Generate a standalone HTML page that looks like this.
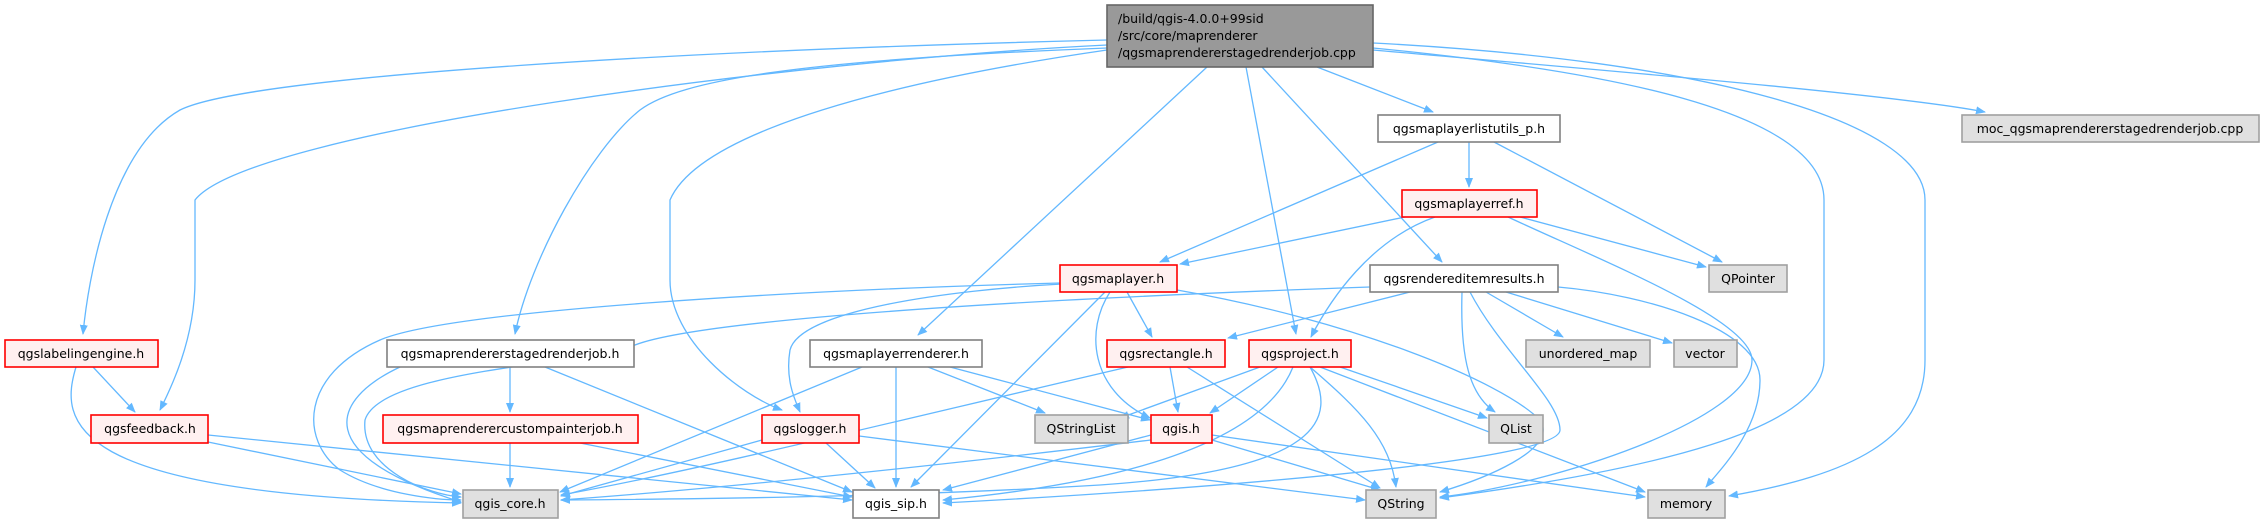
<!DOCTYPE html>
<html><head><meta charset="utf-8"><style>
html,body{margin:0;padding:0;background:#fff;width:2264px;height:526px;overflow:hidden}
svg{display:block}
text{font-family:"DejaVu Sans","Liberation Sans",sans-serif;font-size:12.5px;fill:#000}
.e{fill:none;stroke:#63b8ff;stroke-width:1.3;marker-end:url(#a)}
.w{fill:#fff;stroke:#808080;stroke-width:1.6}
.r{fill:#fff0f0;stroke:#ff0000;stroke-width:1.6}
.g{fill:#e0e0e0;stroke:#a0a0a0;stroke-width:1.6}
</style></head><body>
<svg width="2264" height="526" viewBox="0 0 2264 526" xmlns="http://www.w3.org/2000/svg">
<defs><marker id="a" viewBox="0 0 10 10" refX="9" refY="5" markerWidth="10" markerHeight="10" markerUnits="userSpaceOnUse" orient="auto"><path d="M0,1 L10,5 L0,9 z" fill="#63b8ff"/></marker></defs>
<g>
<path class="e" d="M1107,40 C700,50 250,75 180,110 C110,150 88,280 83,334"/>
<path class="e" d="M1107,45 C800,60 250,130 195,200 L195,280 C195,340 170,390 160,410"/>
<path class="e" d="M1107,48 C800,60 680,80 640,110 C590,150 530,260 515,334"/>
<path class="e" d="M1107,50 C900,80 700,130 670,200 L670,280 C670,340 740,395 782,410"/>
<path class="e" d="M1207,67 L918,335"/>
<path class="e" d="M1246,67 L1296,334"/>
<path class="e" d="M1262,67 L1442,262"/>
<path class="e" d="M1317,67 L1433,112"/>
<path class="e" d="M1373,50 C1600,70 1900,95 1985,112"/>
<path class="e" d="M1373,48 C1600,70 1824,110 1824,200 L1824,360 C1824,430 1650,470 1440,498"/>
<path class="e" d="M1373,43 C1700,60 1925,120 1925,200 L1925,360 C1925,440 1850,475 1729,496"/>
<path class="e" d="M1438,142 L1160,262"/>
<path class="e" d="M1469,142 L1469,187"/>
<path class="e" d="M1494,142 L1722,262"/>
<path class="e" d="M1405,217 L1180,264"/>
<path class="e" d="M1435,217 C1370,240 1330,300 1311,337"/>
<path class="e" d="M1520,217 L1706,267"/>
<path class="e" d="M1508,217 C1600,260 1752,320 1752,360 C1752,420 1550,485 1440,497"/>
<path class="e" d="M1060,283 C800,290 450,310 380,340 C300,375 300,440 340,470 C380,495 440,500 461,500"/>
<path class="e" d="M1370,287 C1000,300 700,320 635,345 C580,365 380,370 365,420 C360,470 430,495 461,497"/>
<path class="e" d="M400,367 C330,400 310,455 461,502"/>
<path class="e" d="M1062,284 C950,290 800,310 790,350 C785,380 795,400 800,412"/>
<path class="e" d="M1127,292 L1152,337"/>
<path class="e" d="M1110,292 C1085,330 1090,390 1150,418"/>
<path class="e" d="M1105,292 L911,487"/>
<path class="e" d="M1177,290 C1350,320 1500,380 1540,420 C1560,450 1480,480 1440,492"/>
<path class="e" d="M1410,292 L1228,338"/>
<path class="e" d="M1462,292 C1460,360 1470,395 1495,412"/>
<path class="e" d="M1486,292 L1563,337"/>
<path class="e" d="M1506,292 L1672,343"/>
<path class="e" d="M1558,287 C1650,295 1760,330 1760,380 C1760,430 1720,470 1706,487"/>
<path class="e" d="M1470,292 C1500,350 1560,400 1560,430 C1560,470 1000,500 943,503"/>
<path class="e" d="M510,367 L510,412"/>
<path class="e" d="M545,367 L852,492"/>
<path class="e" d="M510,443 L510,487"/>
<path class="e" d="M580,443 L852,497"/>
<path class="e" d="M93,367 L135,412"/>
<path class="e" d="M76,367 C60,420 60,495 461,503"/>
<path class="e" d="M208,442 L461,494"/>
<path class="e" d="M208,435 L852,500"/>
<path class="e" d="M862,367 L560,492"/>
<path class="e" d="M896,367 L896,487"/>
<path class="e" d="M928,367 L1045,413"/>
<path class="e" d="M950,367 L1150,420"/>
<path class="e" d="M762,440 L561,496"/>
<path class="e" d="M826,443 L875,488"/>
<path class="e" d="M859,436 L1365,500"/>
<path class="e" d="M1128,367 C900,420 700,470 561,495"/>
<path class="e" d="M1170,367 L1178,412"/>
<path class="e" d="M1187,367 L1380,488"/>
<path class="e" d="M1260,367 L1120,418"/>
<path class="e" d="M1278,367 L1210,413"/>
<path class="e" d="M1293,367 C1260,450 1100,485 943,500"/>
<path class="e" d="M1310,367 C1340,420 1320,470 1100,485 C900,497 700,499 561,500"/>
<path class="e" d="M1310,367 C1360,410 1390,440 1396,487"/>
<path class="e" d="M1340,367 L1487,418"/>
<path class="e" d="M1320,367 L1645,492"/>
<path class="e" d="M1151,440 C900,470 700,490 561,500"/>
<path class="e" d="M1151,435 L943,490"/>
<path class="e" d="M1212,440 L1380,490"/>
<path class="e" d="M1212,435 L1645,497"/>
</g>
<g>
<rect x="1107" y="5" width="266" height="62" fill="#999" stroke="#666" stroke-width="1.6"/>
<text x="1118" y="23">/build/qgis-4.0.0+99sid</text>
<text x="1118" y="40">/src/core/maprenderer</text>
<text x="1118" y="57">/qgsmaprendererstagedrenderjob.cpp</text>

<rect class="w" x="1378" y="115" width="182" height="27"/><text x="1469" y="133" text-anchor="middle">qgsmaplayerlistutils_p.h</text>
<rect class="g" x="1962" y="115" width="297" height="27"/><text x="2110" y="133" text-anchor="middle">moc_qgsmaprendererstagedrenderjob.cpp</text>
<rect class="r" x="1402" y="190" width="135" height="27"/><text x="1469" y="208" text-anchor="middle">qgsmaplayerref.h</text>
<rect class="r" x="1060" y="265" width="117" height="27"/><text x="1118" y="283" text-anchor="middle">qgsmaplayer.h</text>
<rect class="w" x="1370" y="265" width="188" height="27"/><text x="1464" y="283" text-anchor="middle">qgsrendereditemresults.h</text>
<rect class="g" x="1709" y="265" width="78" height="27"/><text x="1748" y="283" text-anchor="middle">QPointer</text>
<rect class="r" x="5" y="340" width="153" height="27"/><text x="81" y="358" text-anchor="middle">qgslabelingengine.h</text>
<rect class="w" x="387" y="340" width="247" height="27"/><text x="510" y="358" text-anchor="middle">qgsmaprendererstagedrenderjob.h</text>
<rect class="w" x="810" y="340" width="172" height="27"/><text x="896" y="358" text-anchor="middle">qgsmaplayerrenderer.h</text>
<rect class="r" x="1107" y="340" width="118" height="27"/><text x="1166" y="358" text-anchor="middle">qgsrectangle.h</text>
<rect class="r" x="1249" y="340" width="102" height="27"/><text x="1300" y="358" text-anchor="middle">qgsproject.h</text>
<rect class="g" x="1526" y="340" width="124" height="27"/><text x="1588" y="358" text-anchor="middle">unordered_map</text>
<rect class="g" x="1674" y="340" width="63" height="27"/><text x="1705" y="358" text-anchor="middle">vector</text>
<rect class="r" x="91" y="415" width="117" height="28"/><text x="150" y="433" text-anchor="middle">qgsfeedback.h</text>
<rect class="r" x="383" y="415" width="255" height="28"/><text x="510" y="433" text-anchor="middle">qgsmaprenderercustompainterjob.h</text>
<rect class="r" x="762" y="415" width="97" height="28"/><text x="810" y="433" text-anchor="middle">qgslogger.h</text>
<rect class="g" x="1035" y="415" width="93" height="28"/><text x="1081" y="433" text-anchor="middle">QStringList</text>
<rect class="r" x="1151" y="415" width="61" height="28"/><text x="1181" y="433" text-anchor="middle">qgis.h</text>
<rect class="g" x="1489" y="415" width="54" height="28"/><text x="1516" y="433" text-anchor="middle">QList</text>
<rect class="g" x="463" y="490" width="95" height="28"/><text x="510" y="508" text-anchor="middle">qgis_core.h</text>
<rect class="w" x="853" y="490" width="86" height="28"/><text x="896" y="508" text-anchor="middle">qgis_sip.h</text>
<rect class="g" x="1366" y="490" width="70" height="28"/><text x="1401" y="508" text-anchor="middle">QString</text>
<rect class="g" x="1648" y="490" width="77" height="28"/><text x="1686" y="508" text-anchor="middle">memory</text>
</g>
</svg>
</body></html>
